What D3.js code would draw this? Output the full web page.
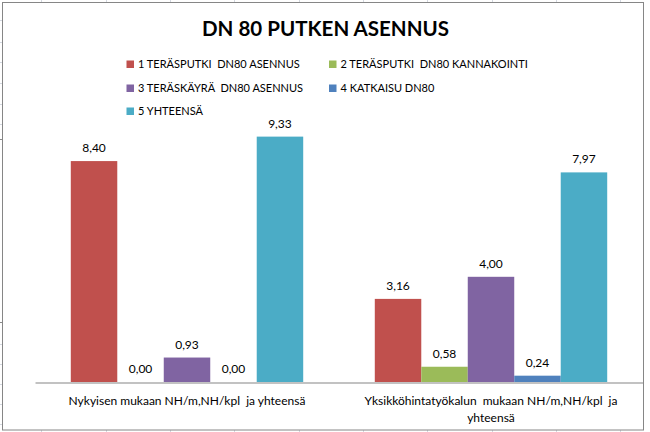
<!DOCTYPE html>
<html>
<head>
<meta charset="utf-8">
<script src="https://cdn.jsdelivr.net/npm/d3@7"></script>
<style>
  html, body { margin: 0; padding: 0; background: #fff; }
  svg { display: block; }
  text { font-family: Lato, "Open Sans", "Liberation Sans", sans-serif; fill: #000; }
</style>
</head>
<body>
<svg id="chart" width="650" height="432"></svg>
<script>
// ---- data ----
const title = "DN 80 PUTKEN ASENNUS";
const categories = [
  "Nykyisen mukaan NH/m,NH/kpl  ja yhteensä",
  "Yksikköhintatyökalun  mukaan NH/m,NH/kpl  ja yhteensä"
];
const categoryLines = [
  ["Nykyisen mukaan NH/m,NH/kpl  ja yhteensä"],
  ["Yksikköhintatyökalun  mukaan NH/m,NH/kpl  ja", "yhteensä"]
];
const seriesNames = [
  "1 TERÄSPUTKI  DN80 ASENNUS",
  "2 TERÄSPUTKI  DN80 KANNAKOINTI",
  "3 TERÄSKÄYRÄ  DN80 ASENNUS",
  "4 KATKAISU DN80",
  "5 YHTEENSÄ"
];
const seriesColors = ["#C0504D", "#9BBB59", "#8064A2", "#4F81BD", "#4BACC6"];
const s1 = [8.40, 3.16];
const s2 = [0.00, 0.58];
const s3 = [0.93, 4.00];
const s4 = [0.00, 0.24];
const s5 = [9.33, 7.97];
const seriesValues = [s1, s2, s3, s4, s5];
const yDomain = [0, 10];

// ---- drawing ----
const svg = d3.select("#chart");

// spreadsheet grid fragments visible around the chart object
const gridColor = "#d4d8e0";
const colXs = [41, 106, 170, 234, 299, 363, 427, 492, 556, 620];
const rowYs = [20, 42, 62, 83, 104, 124, 344, 364, 384, 404, 424];
svg.append("g").selectAll("line").data(colXs).join("line")
  .attr("x1", d => d + 0.5).attr("x2", d => d + 0.5).attr("y1", 0).attr("y2", 3)
  .attr("stroke", gridColor);
svg.append("g").selectAll("line").data(colXs).join("line")
  .attr("x1", d => d + 0.5).attr("x2", d => d + 0.5).attr("y1", 430).attr("y2", 432)
  .attr("stroke", gridColor);
svg.append("g").selectAll("line").data(rowYs).join("line")
  .attr("x1", 0).attr("x2", 2).attr("y1", d => d + 0.5).attr("y2", d => d + 0.5)
  .attr("stroke", gridColor);
svg.append("g").selectAll("line").data([139, 322]).join("line")
  .attr("x1", 0).attr("x2", 2).attr("y1", d => d + 0.5).attr("y2", d => d + 0.5)
  .attr("stroke", "#8a8a8a");

// chart area
svg.append("rect")
  .attr("x", 2.5).attr("y", 2.5).attr("width", 641).attr("height", 427.5)
  .attr("fill", "#fff").attr("stroke", "#868686").attr("stroke-width", 1);

// title
svg.append("text")
  .attr("x", 325.5).attr("y", 36)
  .attr("text-anchor", "middle")
  .attr("textLength", 247).attr("lengthAdjust", "spacingAndGlyphs")
  .style("font-weight", "bold").style("font-size", "21px")
  .text(title);

// legend
const legendPos = [
  [126.5, 64], [329, 64],
  [126.5, 88], [329, 88],
  [126.5, 111]
];
const leg = svg.append("g");
seriesNames.forEach((name, i) => {
  const [lx, ly] = legendPos[i];
  leg.append("rect").attr("x", lx).attr("y", ly - 3.5).attr("width", 7.5).attr("height", 7.5)
    .attr("fill", seriesColors[i]);
  leg.append("text").attr("x", lx + 11.5).attr("y", ly + 4)
    .attr("xml:space", "preserve").style("white-space", "pre")
    .style("font-size", "11px").text(name);
});

// scales
const plotLeft = 35, plotRight = 643, baseY = 382, topY = 119;
const x0 = d3.scaleBand().domain(categories).range([plotLeft, plotRight]).paddingInner(0).paddingOuter(0);
const x1 = d3.scaleBand().domain(d3.range(seriesNames.length)).range([0, x0.bandwidth()])
  .paddingInner(0).paddingOuter(0.77);
const y = d3.scaleLinear().domain(yDomain).range([baseY, topY]);

const locale = d3.formatLocale({decimal: ",", thousands: " ", grouping: [3], currency: ["", "€"]});
const fmt = locale.format(".2f");

const barData = [];
categories.forEach((c, ci) => {
  seriesValues.forEach((vals, si) => {
    barData.push({cat: c, si, v: vals[ci]});
  });
});

svg.append("g").selectAll("rect").data(barData).join("rect")
  .attr("x", d => x0(d.cat) + x1(d.si))
  .attr("y", d => y(d.v))
  .attr("width", x1.bandwidth())
  .attr("height", d => baseY - y(d.v))
  .attr("fill", d => seriesColors[d.si]);

// baseline axis
const xAxis = d3.axisBottom(x0).tickSize(0).tickFormat("");
const axG = svg.append("g").attr("transform", `translate(0,${baseY + 0.5})`).call(xAxis);
axG.select(".domain").attr("stroke", "#868686").attr("stroke-width", 1.2);

// data labels
svg.append("g").selectAll("text").data(barData).join("text")
  .attr("x", d => x0(d.cat) + x1(d.si) + x1.bandwidth() / 2)
  .attr("y", d => y(d.v) - 9)
  .attr("text-anchor", "middle")
  .style("font-size", "12px")
  .text(d => fmt(d.v));

// category labels
categories.forEach((c, ci) => {
  const cx = x0(c) + x0.bandwidth() / 2;
  categoryLines[ci].forEach((line, li) => {
    svg.append("text").attr("x", cx).attr("y", 405 + li * 17)
      .attr("text-anchor", "middle").style("font-size", "12px")
      .attr("xml:space", "preserve").style("white-space", "pre")
      .text(line);
  });
});
</script>
</body>
</html>
